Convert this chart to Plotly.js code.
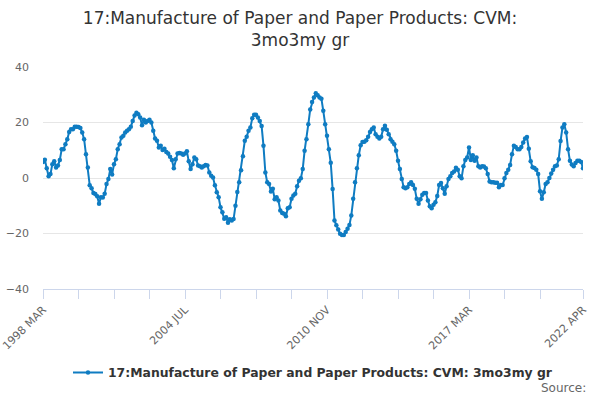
<!DOCTYPE html>
<html>
<head>
<meta charset="utf-8">
<script src="https://cdn.plot.ly/plotly-3.0.1.min.js"></script>
<style>
  html, body { margin: 0; padding: 0; background: #fff; }
  #chart { width: 600px; height: 400px; }
</style>
</head>
<body>
<div id="chart"></div>
<script>
// month labels, 1998 MAR .. 2022 APR
const monthNames = ['JAN','FEB','MAR','APR','MAY','JUN','JUL','AUG','SEP','OCT','NOV','DEC'];
let months = [];
for (let y = 1998; y <= 2022; y++) {
  for (let m = 0; m < 12; m++) {
    if (y === 1998 && m < 2) continue;
    if (y === 2022 && m > 3) continue;
    months.push(y + ' ' + monthNames[m]);
  }
}

// 3 month on 3 month a year ago growth, %
const growth = [
  5.8, 6.6, 3.5, 0.6, 1.4, 5, 6, 3.8, 4.5, 6.5,
  10.4, 10.4, 12.2, 14, 16.6, 17.6, 17.6, 18.5, 18.5, 18.4,
  18, 16.4, 14, 8.6, 3.8, -2.6, -3.7, -5.4, -5.8, -6.6,
  -9.3, -6.9, -7, -5.7, -2.2, -0.4, 3.2, 1.3, 5, 6.8,
  10.4, 12.2, 14.6, 15.2, 16.4, 17, 17.6, 18.5, 20.5, 22.5,
  23.5, 23, 21.8, 19, 21, 20, 20.5, 21, 20, 17,
  14.2, 13.4, 11, 11.6, 10.1, 10.5, 9.4, 8.8, 7.7, 6.5,
  3.5, 6.8, 8.8, 9, 8.8, 8.4, 8.8, 9.6, 6, 3.2,
  5, 7.4, 6.8, 4.5, 4.2, 3.8, 4.2, 4.7, 4.5, 2,
  0.8, 0.2, -2.6, -5.1, -6.9, -10.5, -12.3, -14.7, -14.1, -16.1,
  -14.9, -15.3, -14.8, -10, -5, -1.5, 2.8, 7.8, 13.4, 14.9,
  17, 18.2, 21.5, 22.8, 22.8, 21.8, 20.5, 18.7, 11.6, 2,
  -1.5, -2.2, -4.9, -3.9, -7.7, -6.9, -8.1, -11.7, -12.6, -12.9,
  -13.8, -10.9, -10.5, -7.5, -6.3, -5.7, -3, -1, -0.1, 3.2,
  9.8, 14, 19.4, 24.7, 27.4, 29, 30.5, 29.8, 29, 28.6,
  24.2, 19.4, 15.2, 10.4, 5.5, -4, -15.3, -17, -18.6, -20.1,
  -20.5, -20.5, -19.5, -18.3, -16.9, -13.5, -7.5, -1.5, 3.5, 8.2,
  11.8, 13, 13.1, 13.6, 14.9, 16.6, 17.6, 18.2, 15.8, 14.9,
  14.2, 14.9, 17.6, 18.8, 17.4, 15.8, 14, 13.1, 12.2, 9.8,
  6.2, 3.2, -0.4, -3.3, -3.7, -3.3, -2.2, -1.5, -2.5, -3.9,
  -7.5, -9.3, -7.7, -6, -5.4, -5.4, -8.1, -10.2, -10.9, -9.6,
  -8.7, -6.5, -2.5, -1.8, -3.7, -5.7, -3, -0.4, 0.6, 1.8,
  2.3, 3.7, 3, 0.6, -0.1, 4.2, 6.5, 7.4, 11, 6.5,
  8.2, 6.2, 7.4, 4.2, 3.8, 4.2, 4.1, 3.5, 1.4, -1.3,
  -1.5, -1.5, -1.7, -1.7, -3.3, -2.5, -2.5, -0.1, 1.8, 3,
  4.7, 8.6, 11.6, 11.2, 10.4, 10.4, 11.2, 12.8, 14.2, 14.8,
  10.5, 6, 3.9, 3.6, 3, 1.4, -4.8, -7.5, -5.1, -2.2,
  -1.5, 0, 1.6, 3, 4.2, 4.5, 6.8, 13.3, 18.2, 19.4,
  16.4, 10.4, 6.2, 4.9, 4.2, 5.4, 6.2, 6.2, 5.8, 3.5
];

const seriesName = '17:Manufacture of Paper and Paper Products: CVM: 3mo3my gr';
const labelled = ['1998 MAR', '2004 JUL', '2010 NOV', '2017 MAR', '2022 APR'];

// a tick every 19 months, then the last month
let tickVals = [];
let tickText = [];
for (let i = 0; i <= 266; i += 19) {
  tickVals.push(months[i]);
  tickText.push(labelled.includes(months[i]) ? months[i] : '');
}
tickVals.push(months[months.length - 1]);
tickText.push(months[months.length - 1]);

var trace1 = {
  x: months,
  y: growth,
  type: 'scatter',
  mode: 'lines+markers',
  name: seriesName,
  line: { color: '#0f7cc2', width: 2 },
  marker: { color: '#0f7cc2', size: 4.5 },
  hoverinfo: 'x+y'
};

var layout = {
  width: 600,
  height: 400,
  font: { family: 'DejaVu Sans, sans-serif', color: '#666' },
  paper_bgcolor: '#fff',
  plot_bgcolor: '#fff',
  margin: { l: 43, r: 17, t: 67, b: 108 },
  title: {
    text: '17:Manufacture of Paper and Paper Products: CVM:<br>3mo3my gr',
    font: { size: 17, color: '#333' },
    x: 0.5,
    xanchor: 'center',
    y: 0.94,
    yanchor: 'top'
  },
  xaxis: {
    type: 'category',
    automargin: false,
    tickmode: 'array',
    tickvals: tickVals,
    ticktext: tickText,
    tickangle: -45,
    ticks: 'outside',
    ticklen: 9,
    tickcolor: '#ccd6eb',
    tickwidth: 1,
    showline: true,
    linecolor: '#ccd6eb',
    linewidth: 1,
    showgrid: false,
    zeroline: false,
    tickfont: { size: 11, color: '#666' },
    range: [0, months.length - 1]
  },
  yaxis: {
    automargin: false,
    range: [-40, 40],
    tickvals: [-40, -20, 0, 20, 40],
    showgrid: true,
    gridcolor: '#e6e6e6',
    gridwidth: 1,
    zeroline: false,
    showline: false,
    ticks: '',
    ticklabelstandoff: 13,
    tickfont: { size: 11, color: '#666' }
  },
  showlegend: true,
  legend: {
    orientation: 'h',
    x: 0.5,
    xanchor: 'center',
    y: -0.31,
    yanchor: 'top',
    font: { size: 12.4, color: '#333', weight: 'bold' }
  },
  annotations: [{
    text: 'Source:',
    xref: 'paper',
    yref: 'paper',
    x: 1.01,
    xanchor: 'right',
    y: -0.405,
    yanchor: 'top',
    showarrow: false,
    font: { size: 12, color: '#666' }
  }]
};

Plotly.newPlot('chart', [trace1], layout, { displayModeBar: false, staticPlot: true });
</script>
</body>
</html>
